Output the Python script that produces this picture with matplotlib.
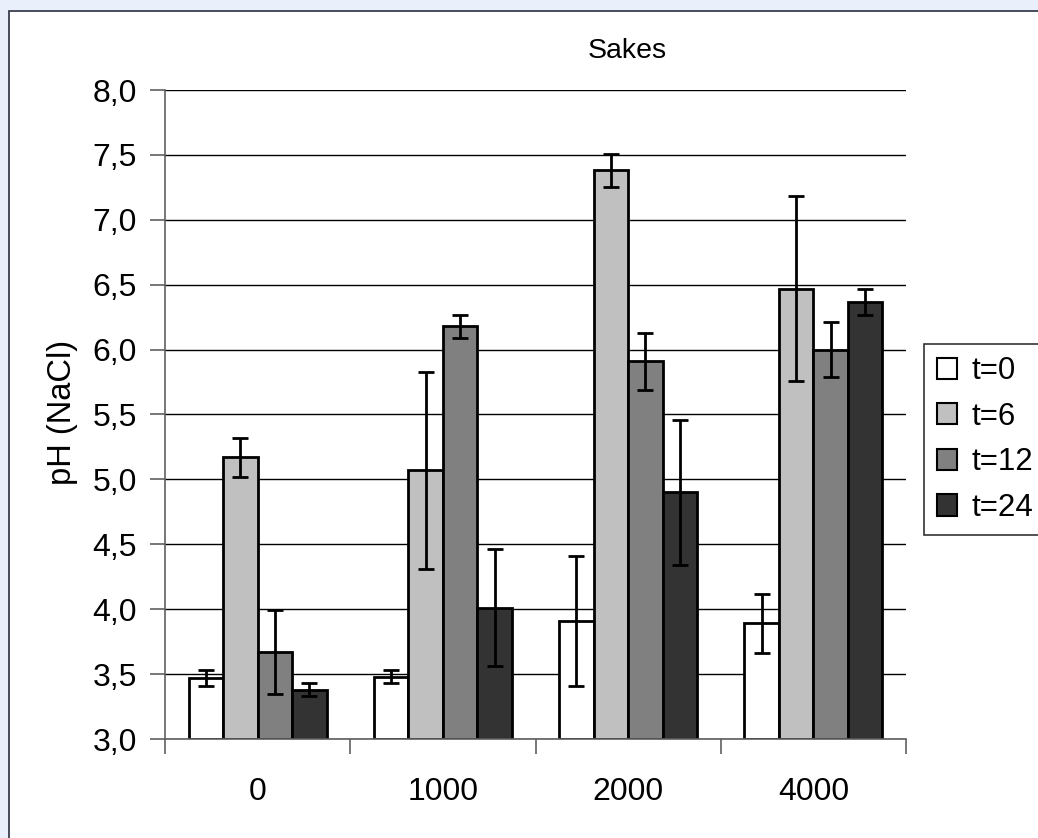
import numpy as np
import matplotlib
matplotlib.use("Agg")
import matplotlib.pyplot as plt
from matplotlib.patches import Rectangle
from matplotlib.ticker import FixedLocator

plt.rcParams['font.family'] = ['Liberation Sans', 'DejaVu Sans']

# data
categories = ["0", "1000", "2000", "4000"]
series = ["t=0", "t=6", "t=12", "t=24"]
colors = ["#ffffff", "#c0c0c0", "#808080", "#333333"]
yticks = [3.0, 3.5, 4.0, 4.5, 5.0, 5.5, 6.0, 6.5, 7.0, 7.5, 8.0]

values = {
    "t=0":  [3.47, 3.48, 3.91, 3.89],
    "t=6":  [5.17, 5.07, 7.38, 6.47],
    "t=12": [3.67, 6.18, 5.91, 6.00],
    "t=24": [3.38, 4.01, 4.90, 6.37],
}
errors = {
    "t=0":  [0.06, 0.05, 0.50, 0.23],
    "t=6":  [0.15, 0.76, 0.13, 0.71],
    "t=12": [0.32, 0.09, 0.22, 0.21],
    "t=24": [0.05, 0.45, 0.56, 0.10],
}

W, H = 1038, 838
fig = plt.figure(figsize=(W / 100, H / 100), dpi=100)
fig.patch.set_facecolor("#e9effb")
fig.patches.append(Rectangle((9 / W, -0.05), 1.2, 1 - 11 / H + 0.05,
                             transform=fig.transFigure, facecolor="white",
                             edgecolor="#2b3040", lw=1.2, zorder=-10))

ax = fig.add_axes([165 / W, 1 - 739 / H, (906 - 165) / W, (739 - 90) / H])
ax.set_facecolor("white")
ax.set_zorder(1)

x = np.arange(len(categories))
bw = 0.186
for i, s in enumerate(series):
    pos = x + (i - 1.5) * bw
    ax.bar(pos, np.array(values[s]) - 3.0, bw, bottom=3.0, color=colors[i],
           edgecolor="black", linewidth=2, label=s, zorder=2)
    ax.errorbar(pos, values[s], yerr=errors[s], fmt="none", ecolor="black",
                elinewidth=2, capsize=6, capthick=2, zorder=3)

ax.set_xlim(-0.5, 3.5)
ax.set_ylim(3.0, 8.0)
ax.set_yticks(yticks)
ax.set_yticklabels([f"{v:.1f}".replace(".", ",") for v in yticks])
ax.set_xticks(x)
ax.set_xticklabels(categories)
ax.xaxis.set_minor_locator(FixedLocator([-0.5, 0.5, 1.5, 2.5, 3.5]))
ax.tick_params(axis="x", which="major", length=0, pad=27, labelsize=23)
ax.tick_params(axis="x", which="minor", length=11, width=1.2, color="#606060")
ax.tick_params(axis="y", length=11, width=1.2, color="#606060", pad=9, labelsize=23)

ax.grid(axis="y", color="black", linewidth=1)
ax.set_axisbelow(True)
for side in ["top", "right"]:
    ax.spines[side].set_visible(False)
for side in ["left", "bottom"]:
    ax.spines[side].set_color("#606060")
    ax.spines[side].set_linewidth(1.2)
    ax.spines[side].set_zorder(4)

fig.text(62 / W, 1 - 412 / H, "pH (NaCl)", rotation=90,
         ha="center", va="center", fontsize=23.5)
fig.text(627 / W, 1 - 58 / H, "Sakes", ha="center", va="baseline", fontsize=20.5)

leg = ax.legend(loc="center left", bbox_to_anchor=(924 / W, 1 - 439.5 / H),
                bbox_transform=fig.transFigure, fontsize=22.5, frameon=True,
                fancybox=False, borderaxespad=0, borderpad=0.4,
                handlelength=0.66, handleheight=0.66, handletextpad=0.45,
                labelspacing=0.5)
leg.get_frame().set_edgecolor("black")
leg.get_frame().set_linewidth(1.2)
for p in leg.get_patches():
    p.set_linewidth(1.5)

fig.savefig("out.png", dpi=100, facecolor=fig.get_facecolor())
